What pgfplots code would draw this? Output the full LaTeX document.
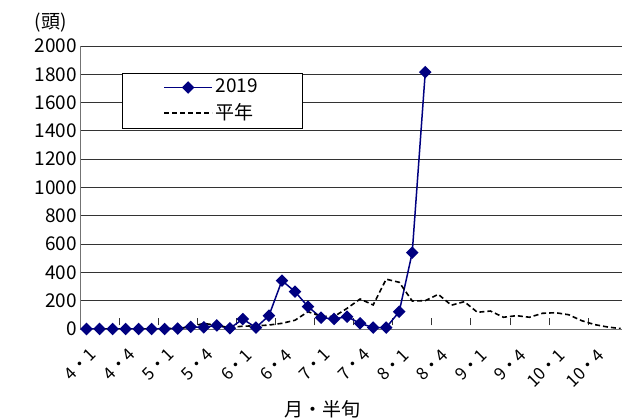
\documentclass[border=0pt]{standalone}
\usepackage{fontspec}
\setmainfont{Noto Sans CJK JP}
\usepackage{pgfplots}
\pgfplotsset{compat=1.18}
\definecolor{navyline}{RGB}{0,0,128}

\begin{document}
\fontsize{19}{23}\selectfont
\begin{tikzpicture}
\path[use as bounding box] (-80pt,-90pt) rectangle (542pt,329pt);
\begin{axis}[
    at={(0pt,0pt)}, anchor=south west,
    scale only axis,
    width=542pt, height=283pt,
    xmin=-0.5, xmax=41.1,
    ymin=0, ymax=2000,
    axis x line=bottom, axis y line=left,
    axis line style={-, black!55, line width=0.9pt},
    ytick={0,200,...,2000},
    xtick={0,3,...,39},
    xticklabels={4・1,4・4,5・1,5・4,6・1,6・4,7・1,7・4,8・1,8・4,9・1,9・4,10・1,10・4},
    minor xtick={2.5,5.5,...,38.5},
    xtick pos=bottom, ytick pos=left,
    major tick length=0pt,
    minor tick length=7pt,
    tick align=inside,
    minor tick style={black!80, line width=0.8pt, yshift=3.5pt},
    ymajorgrids,
    grid style={black!80, line width=0.8pt},
    scaled y ticks=false,
    /pgf/number format/assume math mode=true,
    /pgf/number format/1000 sep={},
    xticklabel style={font=\fontsize{17}{20}\selectfont, yshift=-17pt, xshift=2pt,
        rotate=45, anchor=north east, inner sep=1pt},
    yticklabel style={inner sep=3pt},
    xlabel={月・半旬},
    xlabel style={at={(rel axis cs:0.447,-0.283)}, anchor=center},
    ylabel={(頭)},
    ylabel style={rotate=-90, at={(rel axis cs:-0.054,1.081)}, anchor=center},
    legend cell align=left,
    legend style={at={(rel axis cs:0.0775,0.905)}, anchor=north west,
        draw=black, line width=0.6pt, inner xsep=41pt, inner ysep=5pt,
        row sep=6pt, nodes={inner ysep=1pt, inner xsep=3pt}},
    legend image code/.code={
        \draw[mark repeat=2,mark phase=2,#1] plot coordinates {(0pt,0pt) (24pt,0pt) (48pt,0pt)};
    },
]
\addplot[color=navyline, line width=1.5pt, mark=square*,
    mark options={rotate=45, solid, fill=navyline}, mark size=3.7pt] coordinates {
    (0,0) (1,0) (2,0) (3,0) (4,0) (5,0) (6,0) (7,3) (8,15) (9,12)
    (10,25) (11,5) (12,70) (13,10) (14,94) (15,342) (16,264) (17,158) (18,80) (19,71)
    (20,87) (21,40) (22,10) (23,10) (24,122) (25,540) (26,1815)
};
\addlegendentry{2019}
\addplot[color=black, line width=1.6pt, dash pattern=on 5pt off 3pt] coordinates {
    (0,0) (1,0) (2,0) (3,0) (4,0) (5,2) (6,3) (7,5) (8,15) (9,40)
    (10,25) (11,10) (12,20) (13,22) (14,28) (15,40) (16,62) (17,122) (18,90) (19,88)
    (20,146) (21,212) (22,170) (23,352) (24,330) (25,198) (26,200) (27,245) (28,168) (29,193)
    (30,118) (31,127) (32,83) (33,94) (34,83) (35,111) (36,115) (37,101) (38,59) (39,31)
    (40,14) (41,3)
};
\addlegendentry{平年}
\end{axis}
\end{tikzpicture}
\end{document}
